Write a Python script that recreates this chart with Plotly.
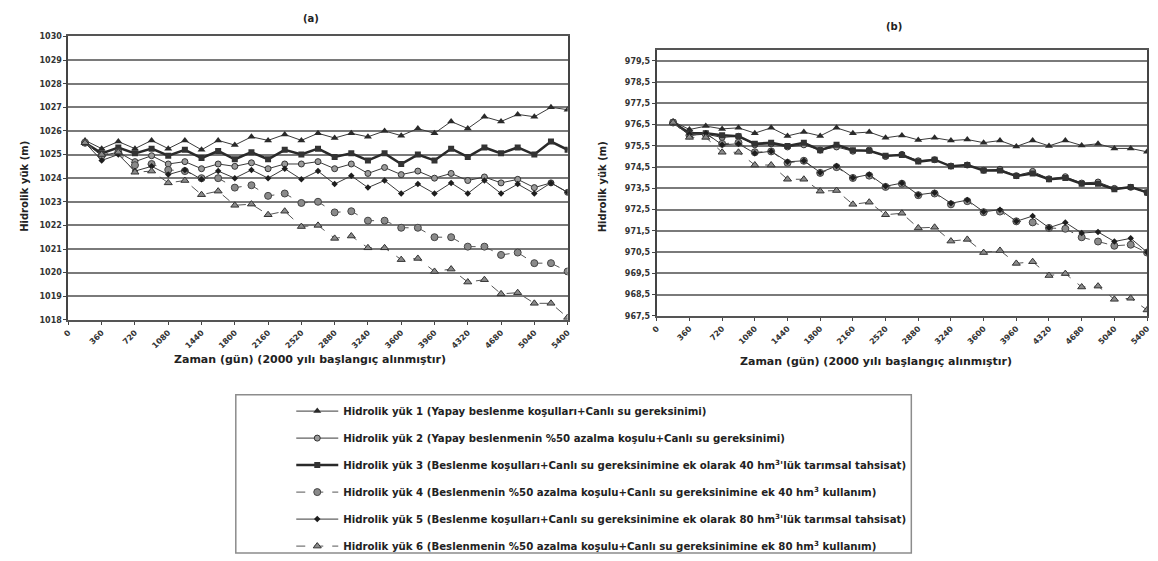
import plotly.graph_objects as go

# Simulation days (every 180 days from 2000 onward)
days = [180, 360, 540, 720, 900, 1080, 1260, 1440, 1620, 1800,
        1980, 2160, 2340, 2520, 2700, 2880, 3060, 3240, 3420, 3600,
        3780, 3960, 4140, 4320, 4500, 4680, 4860, 5040, 5220, 5400]

x_ticks = [0, 360, 720, 1080, 1440, 1800, 2160, 2520, 2880,
           3240, 3600, 3960, 4320, 4680, 5040, 5400]

names = [
    "Hidrolik yük 1 (Yapay beslenme koşulları+Canlı su gereksinimi)",
    "Hidrolik yük 2 (Yapay beslenmenin %50 azalma koşulu+Canlı su gereksinimi)",
    "Hidrolik yük 3 (Beslenme koşulları+Canlı su gereksinimine ek olarak 40 hm<sup>3</sup>'lük tarımsal tahsisat)",
    "Hidrolik yük 4 (Beslenmenin %50 azalma koşulu+Canlı su gereksinimine ek 40 hm<sup>3</sup> kullanım)",
    "Hidrolik yük 5 (Beslenme koşulları+Canlı su gereksinimine ek olarak 80 hm<sup>3</sup>'lük tarımsal tahsisat)",
    "Hidrolik yük 6 (Beslenmenin %50 azalma koşulu+Canlı su gereksinimine ek 80 hm<sup>3</sup> kullanım)",
]

# Panel (a) hydraulic heads (m)
a_yuk1 = [1025.6, 1025.25, 1025.55, 1025.25, 1025.6, 1025.25, 1025.6, 1025.2, 1025.6, 1025.4,
          1025.75, 1025.6, 1025.85, 1025.6, 1025.9, 1025.7, 1025.9, 1025.75, 1026.0, 1025.8,
          1026.1, 1025.9, 1026.4, 1026.1, 1026.6, 1026.4, 1026.7, 1026.6, 1027.0, 1026.9]
a_yuk2 = [1025.5, 1024.95, 1025.1, 1024.7, 1024.95, 1024.6, 1024.7, 1024.4, 1024.6, 1024.5,
          1024.65, 1024.4, 1024.6, 1024.6, 1024.7, 1024.4, 1024.6, 1024.2, 1024.45, 1024.15,
          1024.3, 1024.0, 1024.2, 1023.9, 1024.05, 1023.8, 1023.95, 1023.6, 1023.8, 1023.4]
a_yuk3 = [1025.5, 1025.05, 1025.3, 1025.05, 1025.25, 1024.95, 1025.2, 1024.85, 1025.15, 1024.8,
          1025.1, 1024.8, 1025.2, 1025.0, 1025.25, 1024.9, 1025.05, 1024.75, 1025.05, 1024.6,
          1025.0, 1024.75, 1025.25, 1024.9, 1025.3, 1025.05, 1025.3, 1025.0, 1025.55, 1025.2]
a_yuk4 = [1025.5, 1024.95, 1025.1, 1024.55, 1024.6, 1024.35, 1024.3, 1024.0, 1024.0, 1023.6,
          1023.7, 1023.25, 1023.35, 1022.95, 1023.0, 1022.55, 1022.6, 1022.2, 1022.2, 1021.9,
          1021.9, 1021.5, 1021.5, 1021.1, 1021.1, 1020.75, 1020.85, 1020.4, 1020.4, 1020.05]
a_yuk5 = [1025.5, 1024.75, 1025.0, 1024.3, 1024.5, 1024.15, 1024.35, 1023.95, 1024.3, 1024.0,
          1024.35, 1024.0, 1024.4, 1023.95, 1024.3, 1023.75, 1024.1, 1023.6, 1023.9, 1023.35,
          1023.75, 1023.35, 1023.8, 1023.35, 1023.9, 1023.35, 1023.75, 1023.35, 1023.8, 1023.4]
a_yuk6 = [1025.5, 1025.0, 1025.1, 1024.25, 1024.3, 1023.8, 1023.9, 1023.3, 1023.45, 1022.85,
          1022.9, 1022.45, 1022.6, 1021.95, 1022.0, 1021.45, 1021.55, 1021.05, 1021.05, 1020.55,
          1020.6, 1020.05, 1020.15, 1019.6, 1019.7, 1019.1, 1019.15, 1018.7, 1018.7, 1018.1]

# Panel (b) hydraulic heads (m)
b_yuk1 = [976.65, 976.27, 976.43, 976.3, 976.35, 976.1, 976.35, 975.97, 976.15, 975.97,
          976.35, 976.1, 976.15, 975.88, 975.99, 975.78, 975.88, 975.75, 975.8, 975.65,
          975.75, 975.47, 975.75, 975.5, 975.75, 975.52, 975.6, 975.38, 975.38, 975.22]
b_yuk2 = [976.6, 976.0, 976.05, 975.9, 975.95, 975.55, 975.6, 975.45, 975.55, 975.3,
          975.45, 975.25, 975.3, 975.0, 975.1, 974.8, 974.85, 974.55, 974.6, 974.35,
          974.4, 974.1, 974.3, 973.95, 974.05, 973.75, 973.8, 973.5, 973.55, 973.3]
b_yuk3 = [976.6, 976.1, 976.1, 976.0, 975.95, 975.6, 975.65, 975.5, 975.65, 975.3,
          975.55, 975.3, 975.27, 975.04, 975.07, 974.76, 974.85, 974.54, 974.6, 974.34,
          974.34, 974.08, 974.2, 973.93, 973.99, 973.72, 973.72, 973.46, 973.56, 973.31]
b_yuk4 = [976.6, 976.0, 976.05, 975.6, 975.65, 975.2, 975.24, 974.7, 974.8, 974.23,
          974.5, 973.99, 974.1, 973.57, 973.72, 973.18, 973.26, 972.75, 972.9, 972.38,
          972.41, 971.95, 971.9, 971.64, 971.6, 971.2, 971.0, 970.8, 970.85, 970.48]
b_yuk5 = [976.6, 976.05, 976.1, 975.55, 975.6, 975.15, 975.25, 974.75, 974.8, 974.25,
          974.55, 974.0, 974.15, 973.6, 973.75, 973.2, 973.3, 972.8, 972.95, 972.4,
          972.5, 971.95, 972.2, 971.65, 971.9, 971.4, 971.45, 971.0, 971.15, 970.5]
b_yuk6 = [976.6, 975.9, 975.9, 975.2, 975.2, 974.6, 974.6, 973.93, 973.93, 973.37,
          973.4, 972.75, 972.85, 972.26, 972.33, 971.64, 971.67, 971.02, 971.1, 970.48,
          970.58, 969.97, 970.05, 969.4, 969.49, 968.86, 968.9, 968.28, 968.33, 967.78]

a_ticks = [1018, 1019, 1020, 1021, 1022, 1023, 1024, 1025, 1026, 1027, 1028, 1029, 1030]
b_ticks = [967.5, 968.5, 969.5, 970.5, 971.5, 972.5, 973.5, 974.5, 975.5, 976.5, 977.5, 978.5, 979.5]

W, H = 1158, 561
FONT = "DejaVu Sans"

styles = [
    dict(line=dict(color="#3a3a3a", width=1),
         marker=dict(symbol="triangle-up", size=7, color="#2a2a2a")),
    dict(line=dict(color="#3a3a3a", width=1),
         marker=dict(symbol="circle", size=6, color="#9a9a9a", line=dict(color="#333", width=1))),
    dict(line=dict(color="#2a2a2a", width=2.5),
         marker=dict(symbol="square", size=6, color="#333")),
    dict(line=dict(color="#555", width=1, dash="dash"),
         marker=dict(symbol="circle", size=7, color="#8a8a8a", line=dict(color="#444", width=1))),
    dict(line=dict(color="#3a3a3a", width=1),
         marker=dict(symbol="diamond", size=5, color="#1e1e1e")),
    dict(line=dict(color="#555", width=1, dash="dash"),
         marker=dict(symbol="triangle-up", size=7, color="#8a8a8a", line=dict(color="#333", width=1))),
]

fig = go.Figure()
a_series = [a_yuk1, a_yuk2, a_yuk3, a_yuk4, a_yuk5, a_yuk6]
b_series = [b_yuk1, b_yuk2, b_yuk3, b_yuk4, b_yuk5, b_yuk6]
for i, (name, ya, yb, st) in enumerate(zip(names, a_series, b_series, styles)):
    fig.add_trace(go.Scatter(x=days, y=ya, mode="lines+markers", name=name,
                             legendgroup=f"g{i}", showlegend=True,
                             xaxis="x", yaxis="y", **st))
    fig.add_trace(go.Scatter(x=days, y=yb, mode="lines+markers", name=name,
                             legendgroup=f"g{i}", showlegend=False,
                             xaxis="x2", yaxis="y2", **st))

tick_font = dict(family=FONT, size=8, color="#333", weight="bold")
common_x = dict(range=[0, 5400], tickvals=x_ticks, tickangle=-45, ticks="outside",
                ticklen=3, tickcolor="#444", showgrid=False, zeroline=False,
                showline=True, linecolor="#555", linewidth=2, mirror=True,
                tickfont=tick_font)
common_y = dict(ticks="outside", ticklen=3, tickcolor="#444", showgrid=True,
                gridcolor="#7a7a7a", gridwidth=1.6, zeroline=False,
                showline=True, linecolor="#444", linewidth=2, mirror=True,
                tickfont=tick_font)

fig.update_layout(
    width=W, height=H,
    margin=dict(l=0, r=0, t=0, b=0),
    paper_bgcolor="white", plot_bgcolor="white",
    font=dict(family=FONT, color="#333"),
    xaxis=dict(domain=[63 / W, 567 / W], anchor="y", **common_x),
    yaxis=dict(domain=[1 - 321 / H, 1 - 33 / H], anchor="x", range=[1018, 1030],
               tickvals=a_ticks, **common_y),
    xaxis2=dict(domain=[657 / W, 1152 / W], anchor="y2", **common_x),
    yaxis2=dict(domain=[1 - 317 / H, 1 - 47 / H], anchor="x2", range=[967.5, 980],
                tickvals=b_ticks, ticktext=[f"{v:.1f}".replace(".", ",") for v in b_ticks],
                **common_y),
    legend=dict(x=288 / W, y=1 - 399 / H, xanchor="left", yanchor="top",
                bgcolor="rgba(0,0,0,0)", borderwidth=0,
                traceorder="grouped", tracegroupgap=8, itemwidth=42,
                font=dict(family=FONT, size=10.2, color="#222", weight="bold")),
    showlegend=True,
)

# Legend frame
fig.add_shape(type="rect", xref="paper", yref="paper",
              x0=232 / W, x1=914 / W, y0=1 - 558 / H, y1=1 - 397 / H,
              line=dict(color="#8c8c8c", width=1.5), fillcolor="rgba(0,0,0,0)")

title_font = dict(family=FONT, size=10, color="#222", weight="bold")
axis_title_font = dict(family=FONT, size=11, color="#222", weight="bold")
xt = "Zaman (gün) (2000 yılı başlangıç alınmıştır)"
yt = "Hidrolik yük (m)"
ann = [
    dict(text="(a)", x=308 / W, y=1 - 15 / H, font=title_font),
    dict(text="(b)", x=897 / W, y=1 - 23 / H, font=title_font),
    dict(text=xt, x=307 / W, y=1 - 361 / H, font=axis_title_font),
    dict(text=xt, x=878 / W, y=1 - 363 / H, font=axis_title_font),
    dict(text=yt, x=18 / W, y=1 - 185 / H, textangle=-90, font=title_font),
    dict(text=yt, x=602 / W, y=1 - 186 / H, textangle=-90, font=title_font),
]
for a in ann:
    fig.add_annotation(xref="paper", yref="paper", showarrow=False,
                       xanchor="center", yanchor="middle", **a)

fig.write_html("out.html")
